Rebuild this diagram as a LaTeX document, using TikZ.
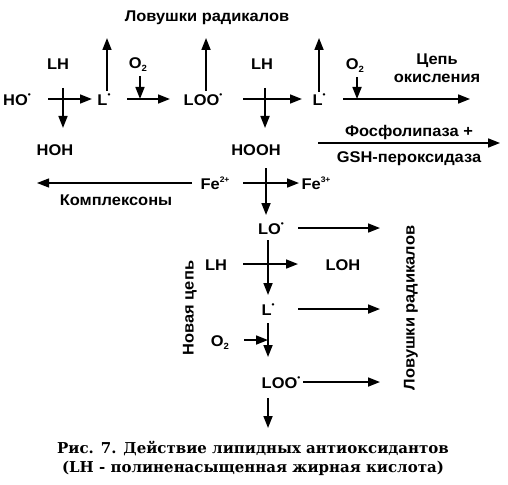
\documentclass[tikz,border=0pt]{standalone}
\usepackage{fontspec}
\setmainfont{Liberation Sans}[FakeStretch=1.06]
\newfontfamily\capfont{DejaVu Serif}
\usetikzlibrary{arrows.meta}
\newcommand\rad{\raisebox{0.95ex}{\fontsize{8}{8}\selectfont •}}
\newcommand\chg[1]{\raisebox{0.85ex}{\fontsize{8}{8}\selectfont #1}}
\newcommand\subtwo{\raisebox{-0.35ex}{\fontsize{9}{9}\selectfont 2}}
\begin{document}
\begin{tikzpicture}[x=1pt,y=-1pt,
  lbl/.style={inner sep=0pt, text height=13pt, text depth=0pt, font=\bfseries\fontsize{15.5}{18}\selectfont},
  arr/.style={line width=1.7pt, -{Triangle[length=12pt,width=9pt]}},
  thinarr/.style={line width=1.2pt, -{Triangle[length=12pt,width=9pt]}},
  capstyle/.style={inner sep=0pt, align=center, font=\capfont\bfseries\fontsize{15}{19}\selectfont}
]
\useasboundingbox (0,0) rectangle (508,484);
% labels
\node[lbl] (top) at (207,15) {Ловушки радикалов};
\node[lbl] (lh1) at (58,63) {LH};
\node[lbl] (o2a) at (138,62) {O\subtwo};
\node[lbl] (lh2) at (262,63) {LH};
\node[lbl] (o2b) at (355,63) {O\subtwo};
\node[inner sep=0pt, align=center, font=\bfseries\fontsize{15.5}{18}\selectfont] (chain) at (437,68) {Цепь\\окисления};
\node[lbl] (ho) at (17,99) {HO\rad};
\node[lbl] (l1) at (104,99) {L\rad};
\node[lbl] (loo1) at (203,99) {LOO\rad};
\node[lbl] (l2) at (319,99) {L\rad};
\node[lbl] (hoh) at (55,149) {HOH};
\node[lbl] (hooh) at (256,149) {HOOH};
\node[lbl] (fos) at (409,130) {Фосфолипаза +};
\node[lbl] (gsh) at (409,156) {GSH-пероксидаза};
\node[lbl] (fe2) at (215,183) {Fe\chg{2+}};
\node[lbl] (fe3) at (316,183) {Fe\chg{3+}};
\node[lbl] (kompl) at (116,199) {Комплексоны};
\node[lbl] (lo) at (271,228) {LO\rad};
\node[lbl] (lh3) at (216,264) {LH};
\node[lbl] (loh) at (343,264) {LOH};
\node[lbl] (l3) at (268,309) {L\rad};
\node[lbl] (o2c) at (220,340) {O\subtwo};
\node[lbl] (loo2) at (281,382) {LOO\rad};
\node[lbl, rotate=90] (nov) at (187,308) {Новая цепь};
\node[lbl, rotate=90] (trap) at (408,308) {Ловушки радикалов};
\node[capstyle] (cap) at (253,458) {Рис. 7. Действие липидных антиоксидантов\\(LH - полиненасыщенная жирная кислота)};
% coordinates
\coordinate (c1) at (63,99);
\coordinate (c2) at (140,99);
\coordinate (t1) at (107,38);
\coordinate (t2) at (206,38);
\coordinate (c5) at (265,99);
\coordinate (t3) at (319,38);
\coordinate (e1) at (470,99);
\coordinate (c6) at (357,99);
\coordinate (f1) at (318,143);
\coordinate (f2) at (500,143);
\coordinate (k1) at (37,183);
\coordinate (c3) at (266,183);
\coordinate (r1) at (380,228);
\coordinate (c7) at (268,264);
\coordinate (r3) at (380,309);
\coordinate (c4) at (268,340);
\coordinate (r4) at (380,382);
\coordinate (d1) at (268,428);
% arrows
\draw[arr, shorten <=31pt, shorten >=12pt] (ho.center) -- (l1.center);
\draw[arr, shorten <=25pt, shorten >=21pt] (lh1 -| c1) -- (hoh -| c1);
\draw[arr, shorten <=23pt, shorten >=33pt] (l1.center) -- (loo1.center);
\draw[arr, shorten <=14pt] (o2a -| c2) -- (c2);
\draw[arr, shorten <=8pt] (t1 |- l1) -- (t1);
\draw[arr, shorten <=8pt] (t2 |- loo1) -- (t2);
\draw[arr, shorten <=40pt, shorten >=17pt] (loo1.center) -- (l2.center);
\draw[arr, shorten <=25pt, shorten >=21pt] (lh2 -| c5) -- (hooh -| c5);
\draw[arr, shorten <=7pt] (t3 |- l2) -- (t3);
\draw[arr, shorten <=24pt] (l2.center) -- (e1);
\draw[arr, shorten <=14pt] (o2b -| c6) -- (c6);
\draw[arr] (f1) -- (f2);
\draw[thinarr, shorten <=23pt] (fe2.center) -- (k1);
\draw[arr, shorten <=28pt, shorten >=17pt] (fe2.center) -- (fe3.center);
\draw[arr, shorten <=19pt, shorten >=13pt] (hooh -| c3) -- (lo -| c3);
\draw[arr, shorten <=27pt] (lo.center) -- (r1);
\draw[arr, shorten <=12pt, shorten >=14pt] (lo -| c7) -- (l3 -| c7);
\draw[arr, shorten <=27pt, shorten >=45pt] (lh3.center) -- (loh.center);
\draw[arr, shorten <=30pt] (l3.center) -- (r3);
\draw[arr, shorten <=14pt, shorten >=25pt] (l3 -| c4) -- (loo2 -| c4);
\draw[arr, shorten <=24pt] (o2c.center) -- (c4);
\draw[arr, shorten <=22pt] (loo2.center) -- (r4);
\draw[arr, shorten <=16pt] (loo2 -| d1) -- (d1);
\end{tikzpicture}
\end{document}
